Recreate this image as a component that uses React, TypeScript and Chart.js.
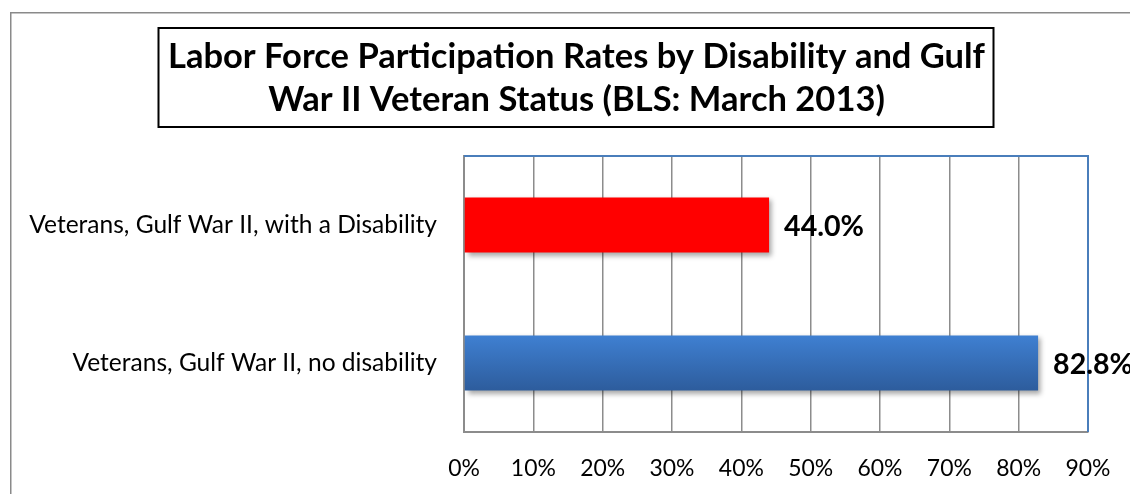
import React, { useEffect, useRef } from "react";
import { Chart, registerables } from "chart.js";

Chart.register(...registerables);

const titleLines = [
  "Labor Force Participation Rates by Disability and Gulf",
  "War II Veteran Status (BLS: March 2013)",
];
const categories = [
  "Veterans, Gulf War II, with a Disability",
  "Veterans, Gulf War II, no disability",
];
const rates = [44.0, 82.8];
const xMin = 0;
const xMax = 90;
const xStep = 10;

const FONT = "Lato, 'Open Sans', sans-serif";

function fitSize(text: string, weight: string, target: number, base: number) {
  const c = document.createElement("canvas").getContext("2d")!;
  c.font = `${weight} ${base}px ${FONT}`;
  const w = c.measureText(text).width;
  return (base * target) / w;
}

export default function App() {
  const ref = useRef<HTMLCanvasElement | null>(null);

  useEffect(() => {
    const canvas = ref.current;
    if (!canvas) return;

    const titleSize = fitSize(titleLines[0], "bold", 817, 30);
    const catSize = fitSize(categories[0], "normal", 408, 20);
    const tickSize = fitSize("90%", "normal", 45, 20);
    const valSize = fitSize("44.0%", "bold", 80, 24);

    const framePlugin = {
      id: "frame",
      beforeDraw(chart: any) {
        const ctx = chart.ctx;
        ctx.save();
        ctx.strokeStyle = "#8a8a8a";
        ctx.lineWidth = 1.5;
        ctx.strokeRect(10.75, 12.75, 1200, 600);
        // title box
        ctx.strokeStyle = "#000";
        ctx.lineWidth = 2;
        ctx.strokeRect(158.5, 28, 835, 99);
        ctx.fillStyle = "#000";
        ctx.font = `bold ${titleSize}px ${FONT}`;
        ctx.textAlign = "center";
        ctx.textBaseline = "middle";
        ctx.fillText(titleLines[0], 576.5, 57);
        ctx.fillText(titleLines[1], 576.5, 100);
        ctx.restore();
      },
      beforeDatasetsDraw(chart: any) {
        const ctx = chart.ctx;
        ctx.save();
        ctx.shadowColor = "rgba(0,0,0,0.35)";
        ctx.shadowBlur = 5;
        ctx.shadowOffsetX = 3;
        ctx.shadowOffsetY = 3;
      },
      afterDatasetsDraw(chart: any) {
        const ctx = chart.ctx;
        ctx.restore();
        const area = chart.chartArea;
        ctx.save();
        ctx.strokeStyle = "#4a7ebb";
        ctx.lineWidth = 2;
        ctx.beginPath();
        ctx.moveTo(area.left, area.top);
        ctx.lineTo(area.right, area.top);
        ctx.lineTo(area.right, area.bottom);
        ctx.stroke();
        // value labels
        const meta = chart.getDatasetMeta(0);
        ctx.fillStyle = "#000";
        ctx.font = `bold ${valSize}px ${FONT}`;
        ctx.textAlign = "left";
        ctx.textBaseline = "middle";
        meta.data.forEach((bar: any, i: number) => {
          ctx.fillText(rates[i].toFixed(1) + "%", bar.x + 15, bar.y + 2);
        });
        ctx.restore();
      },
    };

    const chart = new Chart(canvas, {
      type: "bar",
      data: {
        labels: categories,
        datasets: [
          {
            data: rates,
            backgroundColor: (c: any) => {
              if (c.dataIndex === 0) return "#ff0000";
              const ch = c.chart;
              const ys = ch.scales && ch.scales.y;
              if (!ch.chartArea || !ys) return "#3a6fb8";
              const yc = ys.getPixelForValue(c.dataIndex);
              const g = ch.ctx.createLinearGradient(0, yc - 28, 0, yc + 28);
              g.addColorStop(0, "#3f80d2");
              g.addColorStop(1, "#2d5c9c");
              return g;
            },
            borderWidth: 0,
            barPercentage: 0.4,
            categoryPercentage: 1,
          },
        ],
      },
      plugins: [framePlugin],
      options: {
        indexAxis: "y",
        responsive: false,
        animation: false,
        layout: { padding: { left: 0, top: 156, right: 42, bottom: 0 } },
        plugins: {
          legend: { display: false },
          tooltip: { enabled: false },
          title: { display: false },
        },
        scales: {
          x: {
            min: xMin,
            max: xMax,
            ticks: {
              stepSize: xStep,
              color: "#000",
              font: { family: FONT, size: tickSize },
              padding: 23,
              callback: (v: any) => v + "%",
            },
            grid: { color: "#8c8c8c", lineWidth: 1.5, drawTicks: false },
            border: { display: true, color: "#8c8c8c", width: 2 },
            afterFit: (s: any) => {
              s.height = 62;
              s.paddingLeft = 0;
              s.paddingRight = 0;
            },
          },
          y: {
            ticks: {
              color: "#000",
              font: { family: FONT, size: catSize },
              padding: 27,
            },
            grid: { display: false, drawTicks: false },
            border: { display: true, color: "#8c8c8c", width: 2 },
            afterFit: (s: any) => {
              s.width = 464;
              s.paddingTop = 0;
              s.paddingBottom = 0;
            },
          },
        },
      },
    } as any);

    return () => chart.destroy();
  }, []);

  return (
    <div style={{ position: "fixed", left: 0, top: 0, width: 1130, height: 494, background: "#fff" }}>
      <canvas ref={ref} width={1130} height={494} />
    </div>
  );
}
